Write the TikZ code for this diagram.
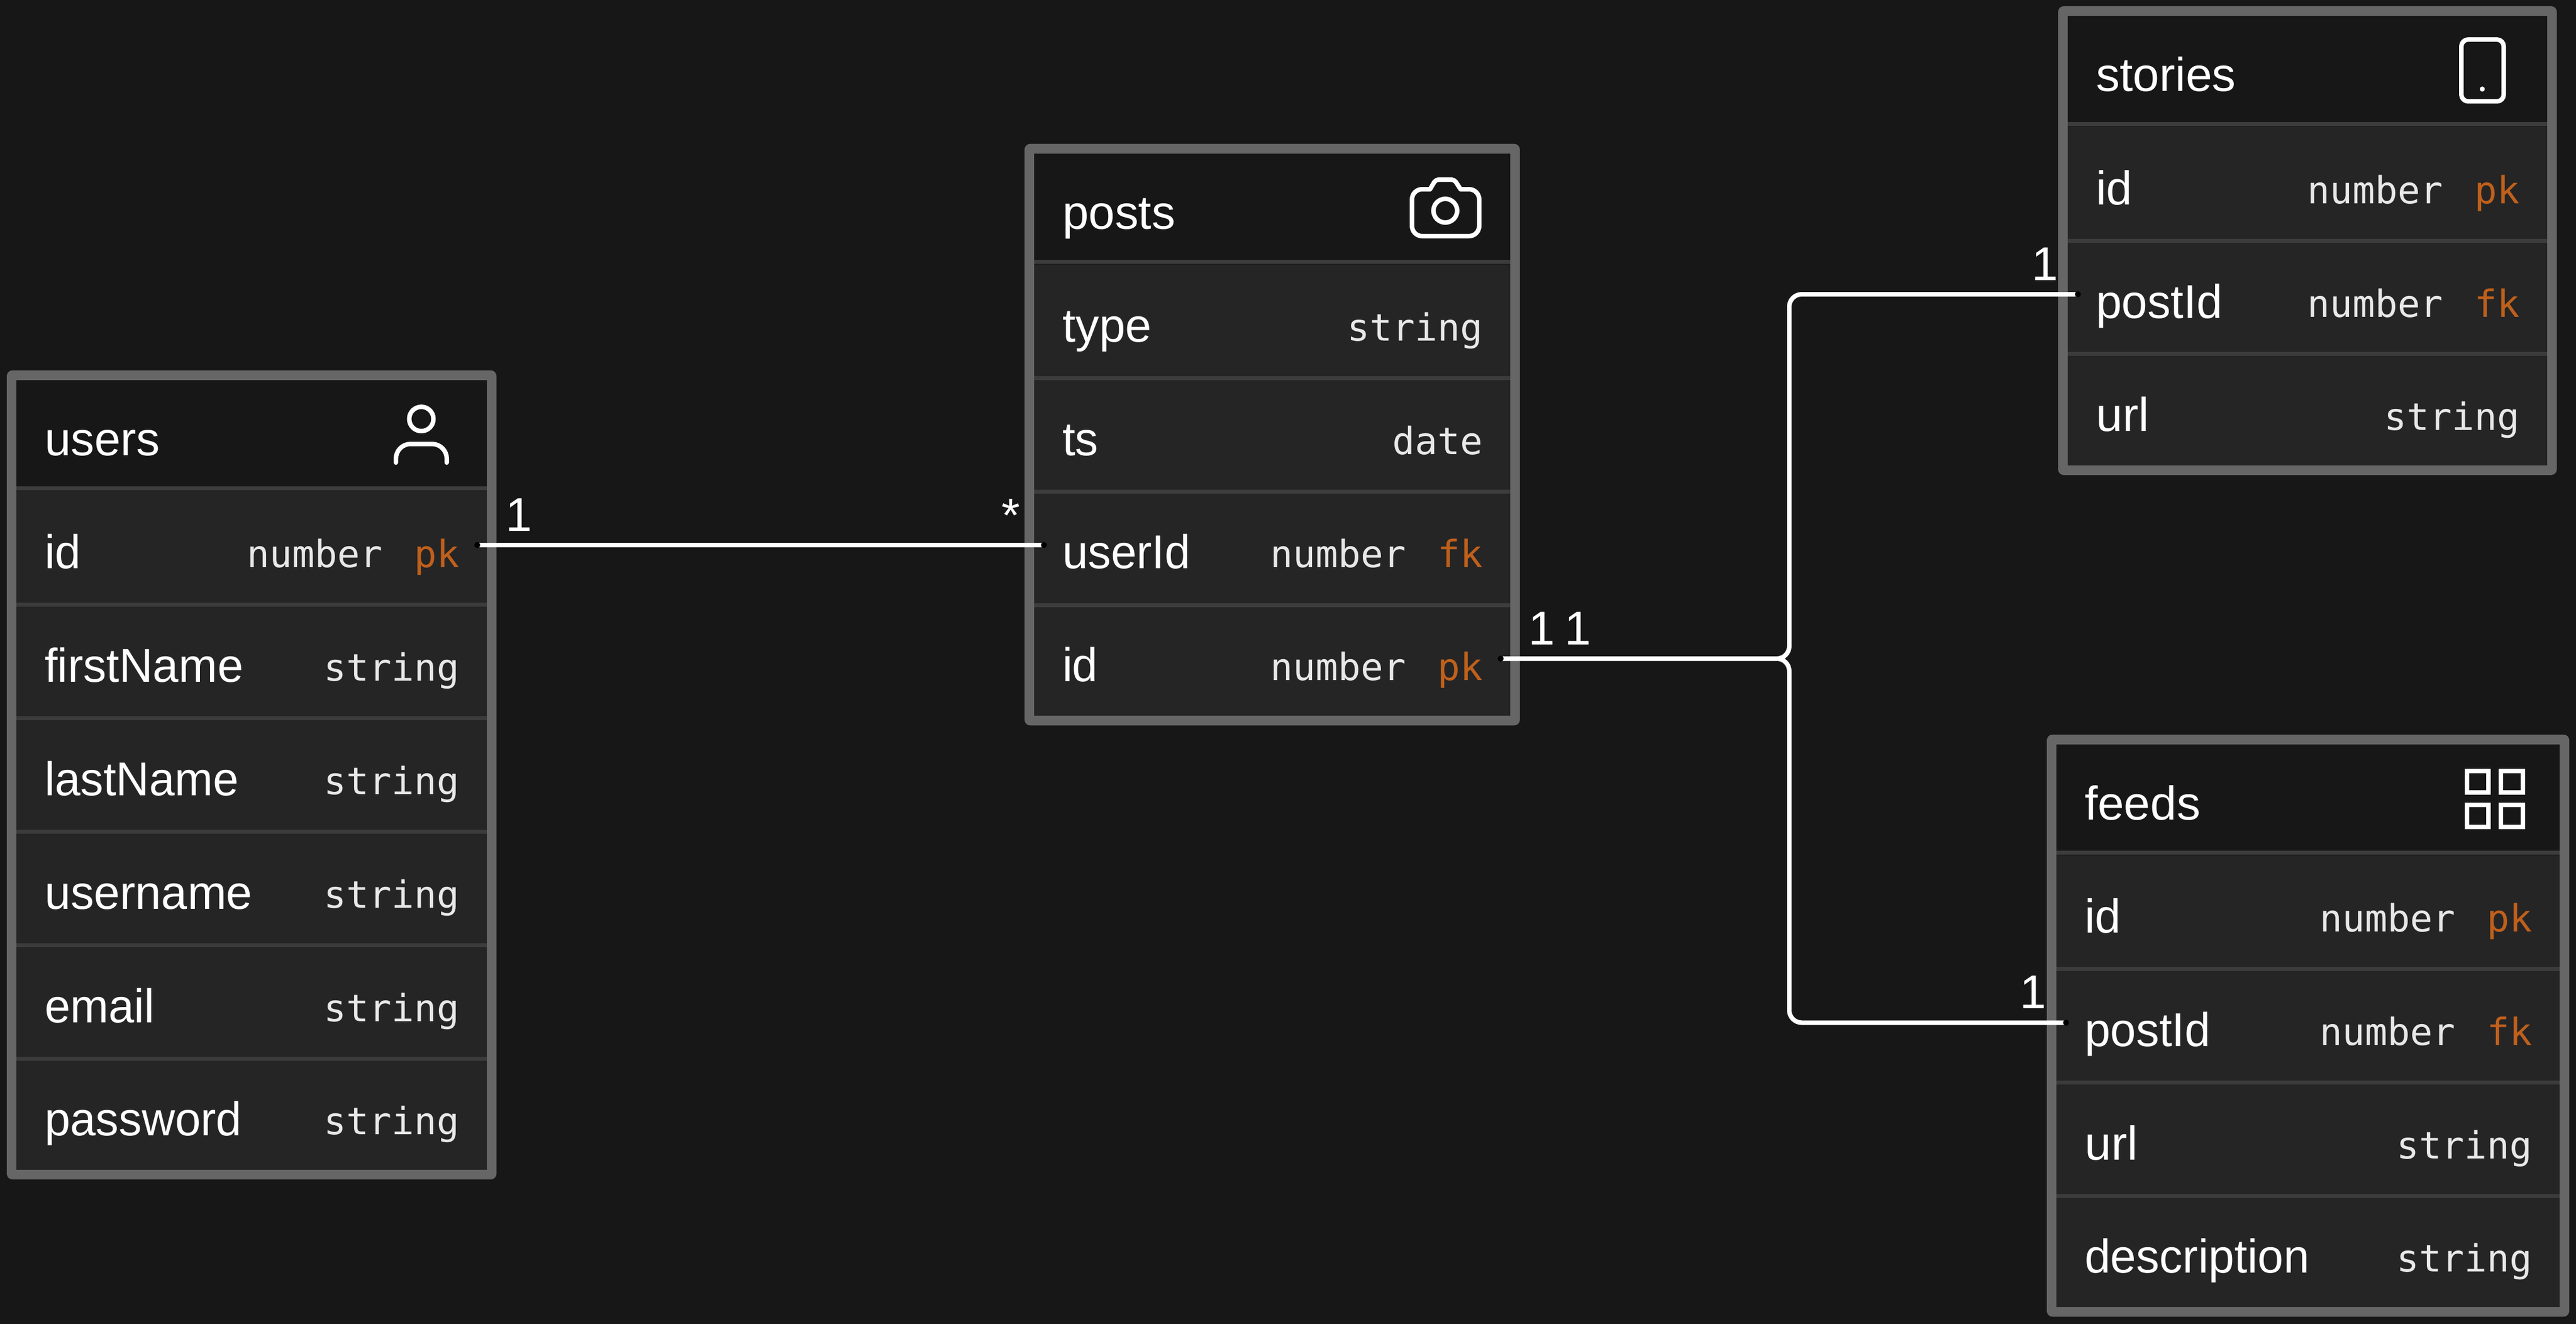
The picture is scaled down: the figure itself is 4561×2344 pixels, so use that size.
\documentclass[tikz,border=0pt]{standalone}
\usepackage{fontspec}
\usepackage{graphicx}
\setmainfont{Liberation Sans}
\newfontfamily\monof{DejaVu Sans Mono}
\definecolor{canvas}{HTML}{171717}
\definecolor{framecol}{HTML}{666666}
\definecolor{rowcol}{HTML}{252525}
\definecolor{sepcol}{HTML}{3C3C3C}
\definecolor{darkcol}{HTML}{1E1E1E}
\definecolor{typecol}{HTML}{E8E8E8}
\definecolor{keycol}{HTML}{BF601C}
\tikzset{
  tableframe/.style={rectangle,fill=framecol,draw=none,rounded corners=10pt,inner sep=0pt,outer sep=0pt},
  fieldname/.style={anchor=base west,inner sep=0pt,outer sep=0pt,text=white,font=\fontsize{84}{100}\selectfont},
  cardlabel/.style={anchor=base,inner sep=0pt,outer sep=0pt,text=white,font=\fontsize{84}{100}\selectfont},
  fieldtype/.style={anchor=base east,inner sep=0pt,outer sep=0pt,text=typecol,font=\monof\fontsize{66.4}{80}\selectfont},
  fieldkey/.style={anchor=base east,inner sep=0pt,outer sep=0pt,text=keycol,font=\monof\fontsize{66.4}{80}\selectfont},
  relation/.style={draw=white,line width=8pt,rounded corners=22pt},
  enddot/.style={fill=black},
  iconline/.style={draw=white,line width=8pt,line cap=round,line join=round},
}
% name, inner left, inner right, inner top, inner bottom, separators as top/next
\newcommand\dbtable[6]{%
  \def\xl{#2}\def\xr{#3}\def\yt{#4}%
  \node[tableframe,minimum width={#3-#2+34},minimum height={#5-#4+34}] (#1) at ({(#2+#3)/2},{-(#4+#5)/2}) {};
  \fill[canvas] (#2,{-#4}) rectangle (#3,{-#5});
  \foreach \s/\e in {#6}{
    \fill[rowcol] (#2,{-\s}) rectangle (#3,{-\e});
    \fill[sepcol] (#2,{-\s}) rectangle (#3,{-(\s+7)});
  }
}
\newcommand\dbtitle[3]{% id, width, text
  \node[fieldname] (#1) at ({\xl+50},{-(\yt+134)}) {\resizebox{#2pt}{\height}{#3}};
}
% id, baseline, width, label, type, key
\newcommand\dbrow[6]{%
  \node[fieldname] (#1n) at ({\xl+50},{-(#2+1.5)}) {\resizebox{#3pt}{\height}{#4}};
  \if\relax\detokenize{#6}\relax
    \node[fieldtype] (#1t) at ({\xr-49},{-(#2-1)}) {#5};
  \else
    \node[fieldtype] (#1t) at ({\xr-185},{-(#2-1)}) {#5};
    \node[fieldkey] (#1k) at ({\xr-49},{-(#2-1)}) {#6};
  \fi
}
\begin{document}
\begin{tikzpicture}[x=1pt,y=1pt]
\useasboundingbox (0,0) rectangle (4561,-2344);
\fill[canvas] (0,0) rectangle (4561,-2344);

% ---- users
\dbtable{users}{29}{862}{672.7}{2071}{861/1067,1067/1268,1268/1469,1469/1670,1670/1871,1871/2071}
\fill[darkcol] (29,-868) rectangle (862,-870);
\dbtitle{usersT}{204}{users}
\dbrow{uid}{1005}{64}{id}{number}{pk}
\dbrow{ufn}{1206}{352}{firstName}{string}{}
\dbrow{uln}{1407}{344}{lastName}{string}{}
\dbrow{uun}{1608}{368}{username}{string}{}
\dbrow{uem}{1809}{195}{email}{string}{}
\dbrow{upw}{2009}{349}{password}{string}{}

% ---- posts
\dbtable{posts}{1831}{2674}{271.7}{1267.3}{460/666,666/867,867/1067.5,1067.5/1267.3}
\fill[darkcol] (1831,-467) rectangle (2674,-469);
\dbtitle{postsT}{200}{posts}
\dbrow{pty}{604}{158}{type}{string}{}
\dbrow{pts}{805}{64}{ts}{date}{}
\dbrow{pui}{1005}{227}{userId}{number}{fk}
\dbrow{pid}{1205}{63}{id}{number}{pk}

% ---- stories
\dbtable{stories}{3661}{4510}{28}{824}{216/422.5,422.5/623,623/824}
\fill[darkcol] (3661,-223) rectangle (4510,-225);
\dbtitle{storiesT}{248}{stories}
\dbrow{sid}{361}{64}{id}{number}{pk}
\dbrow{spi}{562}{224}{postId}{number}{fk}
\dbrow{sur}{762}{94}{url}{string}{}

% ---- feeds
\dbtable{feeds}{3641}{4532}{1317.5}{2314}{1506/1712,1712/1913,1913/2114,2114/2314}
\fill[darkcol] (3641,-1513) rectangle (4532,-1515);
\dbtitle{feedsT}{205}{feeds}
\dbrow{fid}{1650}{64}{id}{number}{pk}
\dbrow{fpi}{1851}{223}{postId}{number}{fk}
\dbrow{fur}{2052}{94}{url}{string}{}
\dbrow{fds}{2252}{398}{description}{string}{}

% ---- icons
% person
\draw[iconline] (746,-741.7) circle (21.5);
\draw[iconline,rounded corners=26pt] (701,-819) -- (701,-786) -- (791,-786) -- (791,-819);
% camera
\draw[iconline] (2559,-373) circle (21);
\draw[iconline,rounded corners=5pt] (2532,-335) -- (2542,-318) -- (2575,-318) -- (2586,-335);
\draw[iconline,rounded corners=18pt] (2532,-335) -- (2500,-335) -- (2500,-418) -- (2619,-418) -- (2619,-335) -- (2586,-335);
% phone
\draw[iconline,rounded corners=12pt] (4358,-70) rectangle (4433,-179.5);
\fill[white] (4395,-157.7) circle (4.5);
% grid
\draw[iconline,line join=miter] (4368,-1365) rectangle (4406,-1403);
\draw[iconline,line join=miter] (4427.5,-1365) rectangle (4466.5,-1403);
\draw[iconline,line join=miter] (4368,-1425) rectangle (4406,-1463.5);
\draw[iconline,line join=miter] (4427.5,-1425) rectangle (4466.5,-1463.5);

% ---- connectors
\coordinate (endUsers) at (845,-965);
\coordinate (endUserId) at (1848.3,-965);
\coordinate (endPosts) at (2657,-1166);
\coordinate (endStories) at (3679,-521);
\coordinate (endFeeds) at (3658,-1810.5);
\coordinate (bendTop) at (3168,-521);
\coordinate (bendMid) at (3168,-1166);
\coordinate (bendBottom) at (3168,-1810.5);
\draw[relation] (endUsers) -- (endUserId);
\draw[relation] (endPosts) -- (bendMid) -- (bendTop) -- (endStories);
\draw[relation] (endPosts) -- (bendMid) -- (bendBottom) -- (endFeeds);
\foreach \p in {endUsers,endUserId,endPosts,endStories,endFeeds}{
  \fill[enddot] (\p) circle (5.3);
}

% ---- cardinalities
\node[cardlabel] (cardUsers) at (919,-940) {1};
\node[cardlabel] (cardUserId) at (1790,-941) {*};
\node[cardlabel] (cardPostsA) at (2730,-1141) {1};
\node[cardlabel] (cardPostsB) at (2794,-1141) {1};
\node[cardlabel] (cardStories) at (3621,-496) {1};
\node[cardlabel] (cardFeeds) at (3600,-1785) {1};
\end{tikzpicture}
\end{document}
